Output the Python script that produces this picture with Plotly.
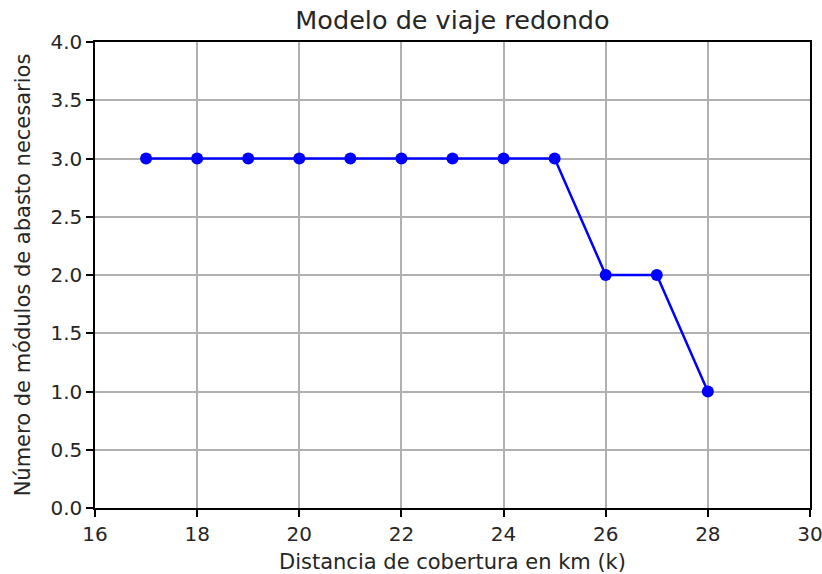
import plotly.graph_objects as go

distancia_km = [17, 18, 19, 20, 21, 22, 23, 24, 25, 26, 27, 28]
modulos = [3, 3, 3, 3, 3, 3, 3, 3, 3, 2, 2, 1]
x_ticks = [16, 18, 20, 22, 24, 26, 28, 30]
y_ticks = [0.0, 0.5, 1.0, 1.5, 2.0, 2.5, 3.0, 3.5, 4.0]

W, H = 822, 574

fig = go.Figure()
fig.add_trace(go.Scatter(
    x=distancia_km, y=modulos, mode="lines+markers",
    line=dict(color="#0000ff", width=2.5),
    marker=dict(color="#0000ff", size=12, symbol="circle"),
    showlegend=False, cliponaxis=False,
))

font = "DejaVu Sans"
txt = "#262626"
axis_common = dict(
    showline=True, linecolor="#000000", linewidth=1.5, mirror=True,
    showgrid=True, gridcolor="#b0b0b0", gridwidth=1.5,
    ticks="outside", ticklen=7, tickwidth=1.5, tickcolor="#000000",
    tickfont=dict(family=font, size=20, color=txt),
    zeroline=False, automargin=False, ticklabeloverflow="allow",
)
fig.update_layout(
    width=W, height=H,
    margin=dict(l=95, r=12, t=42, b=66),
    paper_bgcolor="white", plot_bgcolor="white",
    title=dict(text="Modelo de viaje redondo", x=0.5, xref="paper", xanchor="center",
               y=1 - 20 / H, yanchor="middle",
               font=dict(family=font, size=25.5, color=txt)),
    xaxis=dict(range=[16, 30], tickvals=x_ticks,
               ticktext=[str(v) for v in x_ticks],
               title=dict(text="Distancia de cobertura en km (k)", standoff=10,
                          font=dict(family=font, size=21, color=txt)),
               **axis_common),
    yaxis=dict(range=[0, 4], tickvals=y_ticks,
               ticktext=[f"{v:.1f}" for v in y_ticks],
               title=dict(text="Número de módulos de abasto necesarios", standoff=14,
                          font=dict(family=font, size=21, color=txt)),
               **axis_common),
)
fig.write_html("out.html", config={"displayModeBar": False},
               post_script="document.body.style.margin='0px';")
